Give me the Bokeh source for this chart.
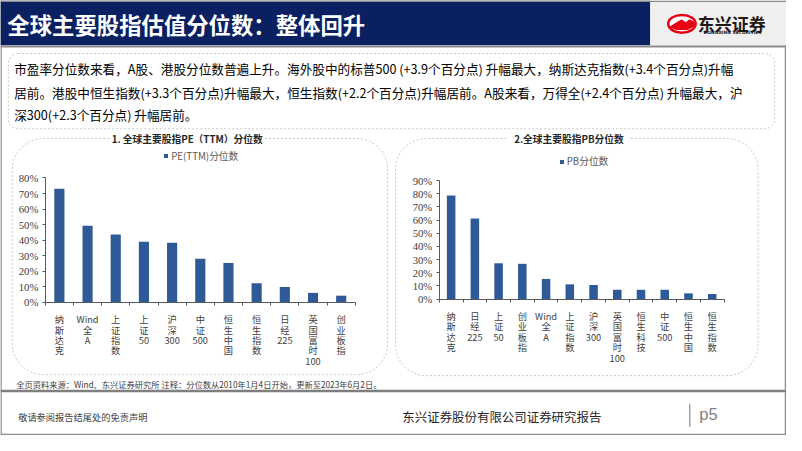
import numpy as np
from bokeh.plotting import figure
from bokeh.models import (Range1d, LinearAxis, FixedTicker, NumeralTickFormatter,
                          ColumnDataSource, Legend, LegendItem)
from bokeh.core.properties import value
from bokeh.embed import file_html
from bokeh.resources import INLINE

# ---------------- data ----------------
pe_categories = ["纳斯达克", "Wind全A", "上证指数", "上证50", "沪深300", "中证500",
                 "恒生中国", "恒生指数", "日经225", "英国富时100", "创业板指"]
pe_values = [0.731, 0.493, 0.436, 0.389, 0.383, 0.280, 0.253, 0.122, 0.098, 0.060, 0.042]

pb_categories = ["纳斯达克", "日经225", "上证50", "创业板指", "Wind全A", "上证指数",
                 "沪深300", "英国富时100", "恒生科技", "中证500", "恒生中国", "恒生指数"]
pb_values = [0.786, 0.613, 0.272, 0.268, 0.153, 0.112, 0.107, 0.071, 0.071, 0.071, 0.044, 0.039]

pe_y_ticks = [0.0, 0.1, 0.2, 0.3, 0.4, 0.5, 0.6, 0.7, 0.8]
pb_y_ticks = [0.0, 0.1, 0.2, 0.3, 0.4, 0.5, 0.6, 0.7, 0.8, 0.9]

title_text = "全球主要股指估值分位数：整体回升"
summary_lines = [
    "市盈率分位数来看，A股、港股分位数普遍上升。海外股中的标普500 (+3.9个百分点) 升幅最大，纳斯达克指数(+3.4个百分点)升幅",
    "居前。港股中恒生指数(+3.3个百分点)升幅最大，恒生指数(+2.2个百分点)升幅居前。A股来看，万得全(+2.4个百分点) 升幅最大，沪",
    "深300(+2.3个百分点) 升幅居前。",
]
chart_titles = ["1. 全球主要股指PE（TTM）分位数", "2.全球主要股指PB分位数"]
legend_labels = ["PE(TTM)分位数", "PB分位数"]
source_note = "全页资料来源：Wind、东兴证券研究所 注释：分位数从2010年1月4日开始，更新至2023年6月2日。"
footer_left = "敬请参阅报告结尾处的免责声明"
footer_center = "东兴证券股份有限公司证券研究报告"
page_label = "p5"
logo_name = "东兴证券"
logo_en = "DONGXING SECURITIES"

# ---------------- styles ----------------
NAVY = "#0a2060"
BAR = "#2e5a97"
AXIS = "#595959"
LABEL = "#404040"
CJK = "Noto Sans CJK SC"
SERIF = "Liberation Serif"

# slide is 802x451; canvas 786x435
SW, SH = 802, 451
W, H = 786, 435
SX, SY = W / SW, H / SH
FS = (SX + SY) / 2


def fs(px):
    return f"{px * FS:.2f}px"


def mapped_range(v0, s0, v1, s1, lo, hi):
    k = (v1 - v0) / (s1 - s0)
    return Range1d(start=v0 + (lo - s0) * k, end=v0 + (hi - s0) * k)


def vertical(s):
    parts, buf = [], ""
    for ch in s:
        if ord(ch) < 128:
            buf += ch
        else:
            if buf:
                parts.append(buf)
                buf = ""
            parts.append(ch)
    if buf:
        parts.append(buf)
    return "\n".join(parts)


def rounded_path(x0, y0, x1, y1, r, gap=None):
    def arc(cx, cy, a0, a1):
        t = np.linspace(a0, a1, 12)
        return list(cx + r * np.cos(t)), list(cy + r * np.sin(t))
    xs, ys = [], []
    xs.append(gap[1] if gap else x0 + r); ys.append(y0)
    for cx, cy, a0, a1 in [(x1 - r, y0 + r, 1.5 * np.pi, 2 * np.pi),
                           (x1 - r, y1 - r, 0, 0.5 * np.pi),
                           (x0 + r, y1 - r, 0.5 * np.pi, np.pi),
                           (x0 + r, y0 + r, np.pi, 1.5 * np.pi)]:
        ax, ay = arc(cx, cy, a0, a1)
        xs += ax; ys += ay
    xs.append(gap[0] if gap else x0 + r); ys.append(y0)
    return xs, ys


p = figure(width=W, height=H, x_range=Range1d(0, SW), y_range=Range1d(SH, 0),
           output_backend="svg", toolbar_location=None, min_border=0,
           x_axis_type=None, y_axis_type=None)
p.outline_line_color = None
p.background_fill_color = "white"
p.border_fill_color = "white"

# ---------------- slide frame ----------------
p.line(x=[0.5, 0.5], y=[0, 451], line_color="#8c8c8c", line_width=1.5)
p.line(x=[801, 801], y=[0, 451], line_color="#8c8c8c", line_width=1.5)
p.line(x=[0, 802], y=[450, 450], line_color="#8c8c8c", line_width=1.5)

# ---------------- header ----------------
p.quad(left=[0], right=[663], top=[0], bottom=[46.5], fill_color=NAVY, line_color=None)
p.quad(left=[663], right=[802], top=[0], bottom=[46.5], fill_color="#f0f0f0", line_color=None)
p.line(x=[0, 802], y=[0.8, 0.8], line_color="#8c8c8c", line_width=1.5)
p.line(x=[0, 802], y=[47.8, 47.8], line_color="#8c8c8c", line_width=2)
p.text(x=[7], y=[24.5], text=[title_text], text_color="white", text_font=value(CJK),
       text_font_size=fs(23), text_font_style="bold", text_baseline="middle", text_align="left")
# logo
p.ellipse(x=[695.3], y=[24.2], width=[28], height=[18.5], fill_color="white",
          line_color="#e60012", line_width=2.5)
p.patch(x=[683, 689, 695, 699, 703, 708, 708, 701, 690, 684],
        y=[27, 23, 19.5, 22.5, 19.5, 22, 27, 30.5, 30.5, 28.5],
        fill_color="#e60012", line_color=None)
p.text(x=[711.5], y=[23.5], text=[logo_name], text_color="#231815", text_font=value(CJK),
       text_font_size=fs(17.5), text_font_style="bold", text_baseline="middle", text_align="left")
p.text(x=[747], y=[33.5], text=[logo_en], text_color="#231815", text_font=value("DejaVu Sans"),
       text_font_size=fs(4.6), text_font_style="bold", text_baseline="middle", text_align="center")

# ---------------- summary box ----------------
bx, by = rounded_path(8, 55, 790, 133, 10)
p.line(bx, by, line_color="#c8c8c8", line_dash="2 2", line_width=1)
p.text(x=[14, 14, 14], y=[70, 95, 118], text=summary_lines, text_color="black",
       text_font=value(CJK), text_font_size=fs(13), text_baseline="middle", text_align="left")

# ---------------- chart panels ----------------
lx, ly = rounded_path(12, 143, 395, 388, 32, gap=(113, 270))
p.line(lx, ly, line_color="#c8c8c8", line_dash="2 2", line_width=1)
rx, ry = rounded_path(403, 143, 773, 389, 32, gap=(518, 643))
p.line(rx, ry, line_color="#c8c8c8", line_dash="2 2", line_width=1)
p.text(x=[190.5, 580], y=[144, 144], text=chart_titles, text_color="#262626",
       text_font=value(CJK), text_font_size=fs(10), text_font_style="bold",
       text_baseline="middle", text_align="center")

charts = [
    dict(name="pe", cats=pe_categories, vals=pe_values, ticks=pe_y_ticks,
         x_left=45.7, x_right=362.0, y_zero=312.8, y_top=184.0,
         legend=legend_labels[0], legend_xy=(166.5, 168.8)),
    dict(name="pb", cats=pb_categories, vals=pb_values, ticks=pb_y_ticks,
         x_left=447.7, x_right=738.3, y_zero=309.6, y_top=186.7,
         legend=legend_labels[1], legend_xy=(570, 174.2)),
]

for c in charts:
    n = len(c["cats"])
    xn, yn = c["name"] + "_x", c["name"] + "_y"
    p.extra_x_ranges[xn] = mapped_range(-0.5, c["x_left"], n - 0.5, c["x_right"], 0, SW)
    p.extra_y_ranges[yn] = mapped_range(0.0, c["y_zero"], c["ticks"][-1], c["y_top"], SH, 0)
    src = ColumnDataSource(dict(x=list(range(n)), top=c["vals"]))
    r = p.vbar(x="x", top="top", width=0.36, source=src, x_range_name=xn, y_range_name=yn,
               fill_color=BAR, line_color=None)

    yax = LinearAxis(x_range_name=xn, y_range_name=yn, fixed_location=-0.5,
                     bounds=(0, c["ticks"][-1]), ticker=FixedTicker(ticks=c["ticks"]),
                     formatter=NumeralTickFormatter(format="0%"))
    yax.axis_line_color = AXIS
    yax.major_tick_line_color = AXIS
    yax.major_tick_out = 3
    yax.major_tick_in = 0
    yax.minor_tick_out = 0
    yax.minor_tick_in = 0
    yax.major_label_standoff = 4
    yax.major_label_text_font = SERIF
    yax.major_label_text_font_size = fs(11)
    yax.major_label_text_color = LABEL
    p.add_layout(yax, "left")

    xax = LinearAxis(x_range_name=xn, y_range_name=yn, fixed_location=0,
                     bounds=(-0.5, n - 0.5),
                     ticker=FixedTicker(ticks=list(range(n)),
                                        minor_ticks=[i - 0.5 for i in range(n + 1)]))
    xax.major_label_overrides = {i: vertical(cat) for i, cat in enumerate(c["cats"])}
    xax.axis_line_color = AXIS
    xax.major_tick_out = 0
    xax.major_tick_in = 0
    xax.minor_tick_line_color = AXIS
    xax.minor_tick_out = 3
    xax.minor_tick_in = 0
    xax.major_label_standoff = 7
    xax.major_label_orientation = "horizontal"
    xax.major_label_text_font = CJK
    xax.major_label_text_font_size = fs(9.5)
    xax.major_label_text_line_height = 0.74
    xax.major_label_text_color = LABEL
    p.add_layout(xax, "below")

    lxs, lys = c["legend_xy"]
    leg = Legend(items=[LegendItem(label=c["legend"], renderers=[r])],
                 location=(lxs * SX, (SH - lys) * SY),
                 orientation="horizontal", glyph_width=5, glyph_height=5, label_standoff=3,
                 label_height=10, label_text_font=CJK, label_text_font_size=fs(10),
                 label_text_color="#595959", padding=0, margin=0, spacing=0,
                 border_line_color=None, background_fill_alpha=0)
    p.add_layout(leg)

# ---------------- source & footer ----------------
p.text(x=[16], y=[397.5], text=[source_note], text_color=LABEL, text_font=value(CJK),
       text_font_size=fs(8.5), text_baseline="middle", text_align="left")
p.line(x=[0, 802], y=[404.8, 404.8], line_color="#7f7f7f", line_width=2.5)
p.text(x=[18], y=[432], text=[footer_left], text_color="#404040", text_font=value(CJK),
       text_font_size=fs(9.5), text_baseline="middle", text_align="left")
p.text(x=[410], y=[432], text=[footer_center], text_color="#262626", text_font=value(CJK),
       text_font_size=fs(12.8), text_baseline="middle", text_align="left")
p.line(x=[703.3, 703.3], y=[418, 442], line_color="#8c8c8c", line_width=1.2)
p.text(x=[713], y=[429], text=[page_label], text_color="#7f7f7f",
       text_font=value("Liberation Sans"), text_font_size=fs(17),
       text_baseline="middle", text_align="left")

open("out.html", "w").write(file_html(p, INLINE))
